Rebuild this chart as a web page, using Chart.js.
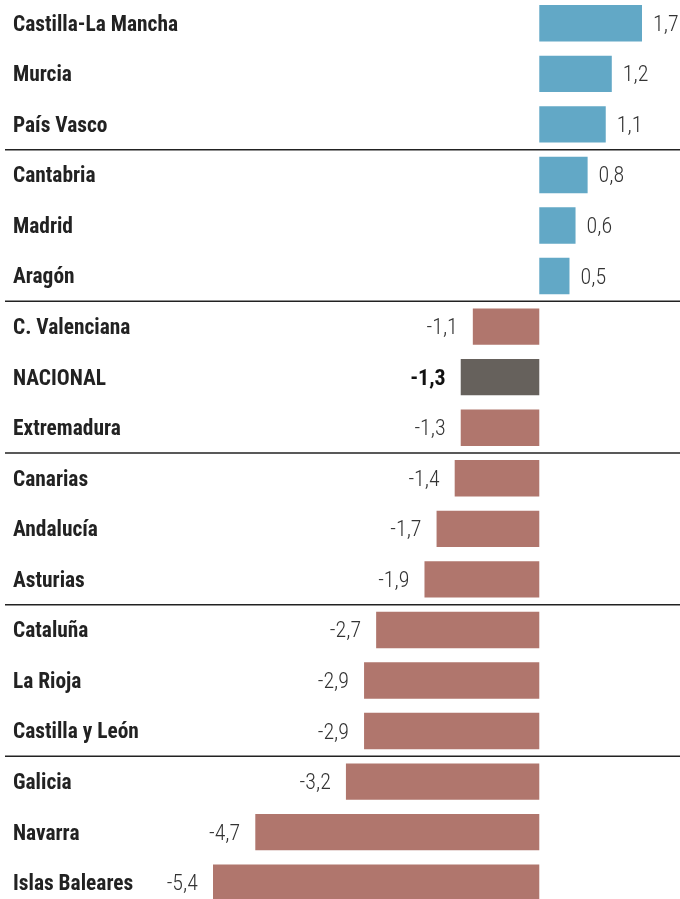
<!DOCTYPE html>
<html>
<head>
<meta charset="utf-8">
<script src="https://cdn.jsdelivr.net/npm/chart.js@4.4.1/dist/chart.umd.min.js"></script>
<style>
html,body{margin:0;padding:0;background:#fff;overflow:hidden;width:680px;height:899px;}
#wrap{position:absolute;left:0;top:-2px;width:680px;height:910px;}
</style>
</head>
<body>
<div id="wrap"><canvas id="c"></canvas></div>
<script>
const categories = ["Castilla-La Mancha","Murcia","País Vasco","Cantabria","Madrid","Aragón","C. Valenciana","NACIONAL","Extremadura","Canarias","Andalucía","Asturias","Cataluña","La Rioja","Castilla y León","Galicia","Navarra","Islas Baleares"];
const values = [1.7,1.2,1.1,0.8,0.6,0.5,-1.1,-1.3,-1.3,-1.4,-1.7,-1.9,-2.7,-2.9,-2.9,-3.2,-4.7,-5.4];
const highlight = "NACIONAL";
const groupSize = 3;

const FONT = "'Roboto Condensed','DejaVu Sans Condensed',sans-serif";
const colPos = "#62a8c6", colNeg = "#b0766d", colNat = "#66615c";
const fmt = v => v.toFixed(1).replace('.', ',');

const valueLabels = {
  id: 'valueLabels',
  afterDatasetsDraw(chart) {
    const ctx = chart.ctx;
    const meta = chart.getDatasetMeta(0);
    ctx.save();
    ctx.textBaseline = 'middle';
    meta.data.forEach((bar, i) => {
      const v = values[i];
      const isNat = categories[i] === highlight;
      ctx.font = (isNat ? 'bold ' : '300 ') + '22px ' + FONT;
      ctx.fillStyle = isNat ? '#111' : '#333';
      if (v >= 0) { ctx.textAlign = 'left'; ctx.fillText(fmt(v), bar.x + 11, bar.y + 2); }
      else { ctx.textAlign = 'right'; ctx.fillText(fmt(v), bar.x - 15, bar.y + 2); }
    });
    ctx.restore();
  }
};

const separators = {
  id: 'separators',
  afterDraw(chart) {
    const ctx = chart.ctx, y = chart.scales.y;
    ctx.save();
    ctx.strokeStyle = '#222';
    ctx.lineWidth = 1.5;
    for (let i = groupSize; i < categories.length; i += groupSize) {
      const py = (y.getPixelForValue(i - 1) + y.getPixelForValue(i)) / 2;
      ctx.beginPath(); ctx.moveTo(5, py); ctx.lineTo(680, py); ctx.stroke();
    }
    ctx.restore();
  }
};

new Chart(document.getElementById('c'), {
  type: 'bar',
  data: {
    labels: categories,
    datasets: [{
      data: values,
      backgroundColor: categories.map((c, i) => c === highlight ? colNat : (values[i] >= 0 ? colPos : colNeg)),
      borderWidth: 0,
      barPercentage: 0.72,
      categoryPercentage: 1
    }]
  },
  options: {
    indexAxis: 'y',
    responsive: true,
    maintainAspectRatio: false,
    animation: false,
    layout: { padding: { left: 13, right: 38, top: 0, bottom: 0 } },
    plugins: { legend: { display: false }, tooltip: { enabled: false } },
    scales: {
      x: { display: false, min: -5.4, max: 1.7 },
      y: {
        grid: { display: false },
        border: { display: false },
        afterFit(scale) { scale.width = 200; scale.paddingTop = 0; scale.paddingBottom = 0; },
        ticks: {
          crossAlign: 'far',
          padding: 0,
          labelOffset: 2,
          color: '#222',
          font: { family: FONT, size: 21.4, weight: 'bold' }
        }
      }
    }
  },
  plugins: [valueLabels, separators]
});
</script>
</body>
</html>
